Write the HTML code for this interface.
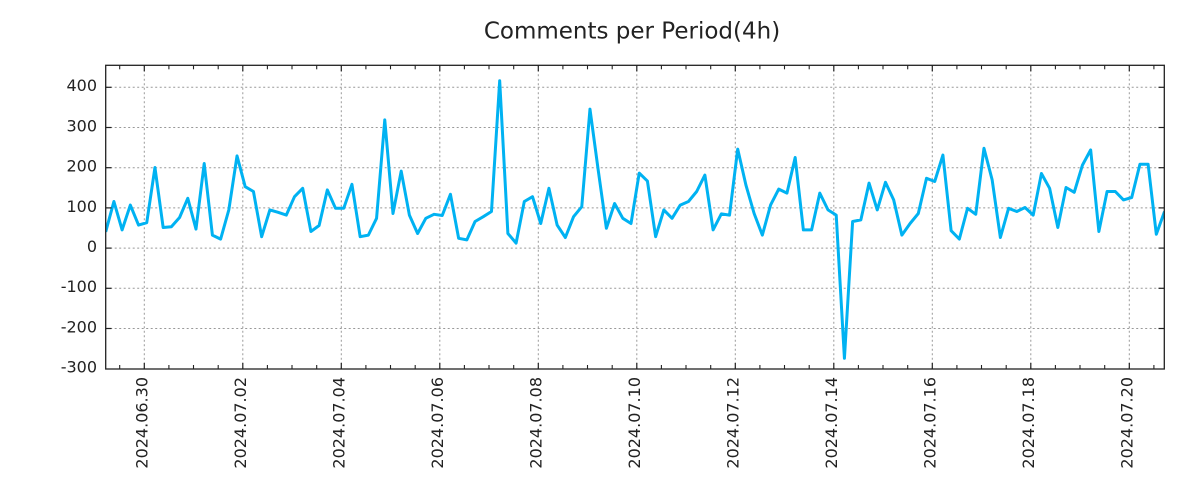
<!DOCTYPE html>
<html>
<head>
<meta charset="utf-8">
<style>
html,body{margin:0;padding:0;background:#fff;}
svg{display:block;}
text{font-family:"DejaVu Sans","Liberation Sans",sans-serif;fill:#222;}
</style>
</head>
<body>
<svg width="1200" height="500" viewBox="0 0 1200 500" xmlns="http://www.w3.org/2000/svg">
<defs>
<clipPath id="pc"><rect x="105.7" y="65.3" width="1058.6" height="303.7"/></clipPath>
</defs>
<rect width="1200" height="500" fill="#fff"/>
<text x="632" y="38.5" font-size="23" text-anchor="middle">Comments per Period(4h)</text>

<!-- grid -->
<g stroke="#999" stroke-width="1" stroke-dasharray="2,2.5" fill="none">
<line x1="105.7" y1="87.3" x2="1164.3" y2="87.3"/>
<line x1="105.7" y1="127.5" x2="1164.3" y2="127.5"/>
<line x1="105.7" y1="167.7" x2="1164.3" y2="167.7"/>
<line x1="105.7" y1="207.9" x2="1164.3" y2="207.9"/>
<line x1="105.7" y1="248.1" x2="1164.3" y2="248.1"/>
<line x1="105.7" y1="288.3" x2="1164.3" y2="288.3"/>
<line x1="105.7" y1="328.5" x2="1164.3" y2="328.5"/>
<line x1="144.3" y1="65.3" x2="144.3" y2="369"/>
<line x1="242.8" y1="65.3" x2="242.8" y2="369"/>
<line x1="341.3" y1="65.3" x2="341.3" y2="369"/>
<line x1="439.8" y1="65.3" x2="439.8" y2="369"/>
<line x1="538.3" y1="65.3" x2="538.3" y2="369"/>
<line x1="636.8" y1="65.3" x2="636.8" y2="369"/>
<line x1="735.3" y1="65.3" x2="735.3" y2="369"/>
<line x1="833.8" y1="65.3" x2="833.8" y2="369"/>
<line x1="932.3" y1="65.3" x2="932.3" y2="369"/>
<line x1="1030.8" y1="65.3" x2="1030.8" y2="369"/>
<line x1="1129.3" y1="65.3" x2="1129.3" y2="369"/>
</g>

<!-- data line -->
<g clip-path="url(#pc)">
<polyline fill="none" stroke="#00b2f2" stroke-width="3" stroke-linejoin="round" vector-effect="non-scaling-stroke"
transform="translate(105.7,248.3) scale(8.208,-0.4)"
points="0,41 1,117 2,46 3,108 4,58 5,64 6,202 7,52 8,54 9,77 10,125 11,48 12,212 13,33 14,23 15,96 16,231 17,154 18,142 19,29 20,96 21,90 22,83 23,129 24,150 25,42 26,57 27,146 28,100 29,100 30,160 31,29 32,33 33,75 34,321 35,87 36,193 37,83 38,37 39,75 40,85 41,82 42,135 43,25 44,21 45,67 46,79 47,92 48,419 49,37 50,13 51,117 52,129 53,62 54,150 55,58 56,27 57,79 58,104 59,348 60,196 61,50 62,112 63,75 64,62 65,188 66,168 67,29 68,96 69,75 70,108 71,117 72,142 73,183 74,46 75,86 76,83 77,248 78,158 79,87 80,33 81,108 82,148 83,138 84,227 85,46 86,46 87,138 88,96 89,83 90,-275 91,67 92,71 93,163 94,96 95,165 96,121 97,33 98,62 99,87 100,175 101,167 102,233 103,44 104,23 105,100 106,85 107,250 108,171 109,27 110,100 111,92 112,102 113,83 114,187 115,150 116,52 117,152 118,140 119,208 120,246 121,42 122,142 123,142 124,121 125,127 126,210 127,210 128,35 129,92"/>
</g>

<!-- frame -->
<rect x="105.7" y="65.3" width="1058.6" height="303.7" fill="none" stroke="#222" stroke-width="1.3"/>

<!-- y ticks -->
<g stroke="#222" stroke-width="1.2">
<line x1="105.7" y1="87.3" x2="111.5" y2="87.3"/><line x1="1164.3" y1="87.3" x2="1158.5" y2="87.3"/>
<line x1="105.7" y1="127.5" x2="111.5" y2="127.5"/><line x1="1164.3" y1="127.5" x2="1158.5" y2="127.5"/>
<line x1="105.7" y1="167.7" x2="111.5" y2="167.7"/><line x1="1164.3" y1="167.7" x2="1158.5" y2="167.7"/>
<line x1="105.7" y1="207.9" x2="111.5" y2="207.9"/><line x1="1164.3" y1="207.9" x2="1158.5" y2="207.9"/>
<line x1="105.7" y1="248.1" x2="111.5" y2="248.1"/><line x1="1164.3" y1="248.1" x2="1158.5" y2="248.1"/>
<line x1="105.7" y1="288.3" x2="111.5" y2="288.3"/><line x1="1164.3" y1="288.3" x2="1158.5" y2="288.3"/>
<line x1="105.7" y1="328.5" x2="111.5" y2="328.5"/><line x1="1164.3" y1="328.5" x2="1158.5" y2="328.5"/>
</g>

<!-- x major ticks -->
<g stroke="#222" stroke-width="1.2">
<line x1="144.3" y1="369" x2="144.3" y2="363"/><line x1="144.3" y1="65.3" x2="144.3" y2="71.3"/>
<line x1="242.8" y1="369" x2="242.8" y2="363"/><line x1="242.8" y1="65.3" x2="242.8" y2="71.3"/>
<line x1="341.3" y1="369" x2="341.3" y2="363"/><line x1="341.3" y1="65.3" x2="341.3" y2="71.3"/>
<line x1="439.8" y1="369" x2="439.8" y2="363"/><line x1="439.8" y1="65.3" x2="439.8" y2="71.3"/>
<line x1="538.3" y1="369" x2="538.3" y2="363"/><line x1="538.3" y1="65.3" x2="538.3" y2="71.3"/>
<line x1="636.8" y1="369" x2="636.8" y2="363"/><line x1="636.8" y1="65.3" x2="636.8" y2="71.3"/>
<line x1="735.3" y1="369" x2="735.3" y2="363"/><line x1="735.3" y1="65.3" x2="735.3" y2="71.3"/>
<line x1="833.8" y1="369" x2="833.8" y2="363"/><line x1="833.8" y1="65.3" x2="833.8" y2="71.3"/>
<line x1="932.3" y1="369" x2="932.3" y2="363"/><line x1="932.3" y1="65.3" x2="932.3" y2="71.3"/>
<line x1="1030.8" y1="369" x2="1030.8" y2="363"/><line x1="1030.8" y1="65.3" x2="1030.8" y2="71.3"/>
<line x1="1129.3" y1="369" x2="1129.3" y2="363"/><line x1="1129.3" y1="65.3" x2="1129.3" y2="71.3"/>
</g>

<!-- x minor ticks (half day) -->
<g stroke="#222" stroke-width="1.1">
<line x1="119.7" y1="369" x2="119.7" y2="365"/><line x1="119.7" y1="65.3" x2="119.7" y2="69.3"/>
<line x1="168.9" y1="369" x2="168.9" y2="365"/><line x1="168.9" y1="65.3" x2="168.9" y2="69.3"/>
<line x1="193.5" y1="369" x2="193.5" y2="365"/><line x1="193.5" y1="65.3" x2="193.5" y2="69.3"/>
<line x1="218.2" y1="369" x2="218.2" y2="365"/><line x1="218.2" y1="65.3" x2="218.2" y2="69.3"/>
<line x1="267.4" y1="369" x2="267.4" y2="365"/><line x1="267.4" y1="65.3" x2="267.4" y2="69.3"/>
<line x1="292.0" y1="369" x2="292.0" y2="365"/><line x1="292.0" y1="65.3" x2="292.0" y2="69.3"/>
<line x1="316.7" y1="369" x2="316.7" y2="365"/><line x1="316.7" y1="65.3" x2="316.7" y2="69.3"/>
<line x1="365.9" y1="369" x2="365.9" y2="365"/><line x1="365.9" y1="65.3" x2="365.9" y2="69.3"/>
<line x1="390.5" y1="369" x2="390.5" y2="365"/><line x1="390.5" y1="65.3" x2="390.5" y2="69.3"/>
<line x1="415.2" y1="369" x2="415.2" y2="365"/><line x1="415.2" y1="65.3" x2="415.2" y2="69.3"/>
<line x1="464.4" y1="369" x2="464.4" y2="365"/><line x1="464.4" y1="65.3" x2="464.4" y2="69.3"/>
<line x1="489.0" y1="369" x2="489.0" y2="365"/><line x1="489.0" y1="65.3" x2="489.0" y2="69.3"/>
<line x1="513.7" y1="369" x2="513.7" y2="365"/><line x1="513.7" y1="65.3" x2="513.7" y2="69.3"/>
<line x1="562.9" y1="369" x2="562.9" y2="365"/><line x1="562.9" y1="65.3" x2="562.9" y2="69.3"/>
<line x1="587.5" y1="369" x2="587.5" y2="365"/><line x1="587.5" y1="65.3" x2="587.5" y2="69.3"/>
<line x1="612.2" y1="369" x2="612.2" y2="365"/><line x1="612.2" y1="65.3" x2="612.2" y2="69.3"/>
<line x1="661.4" y1="369" x2="661.4" y2="365"/><line x1="661.4" y1="65.3" x2="661.4" y2="69.3"/>
<line x1="686.0" y1="369" x2="686.0" y2="365"/><line x1="686.0" y1="65.3" x2="686.0" y2="69.3"/>
<line x1="710.7" y1="369" x2="710.7" y2="365"/><line x1="710.7" y1="65.3" x2="710.7" y2="69.3"/>
<line x1="759.9" y1="369" x2="759.9" y2="365"/><line x1="759.9" y1="65.3" x2="759.9" y2="69.3"/>
<line x1="784.5" y1="369" x2="784.5" y2="365"/><line x1="784.5" y1="65.3" x2="784.5" y2="69.3"/>
<line x1="809.2" y1="369" x2="809.2" y2="365"/><line x1="809.2" y1="65.3" x2="809.2" y2="69.3"/>
<line x1="858.4" y1="369" x2="858.4" y2="365"/><line x1="858.4" y1="65.3" x2="858.4" y2="69.3"/>
<line x1="883.0" y1="369" x2="883.0" y2="365"/><line x1="883.0" y1="65.3" x2="883.0" y2="69.3"/>
<line x1="907.7" y1="369" x2="907.7" y2="365"/><line x1="907.7" y1="65.3" x2="907.7" y2="69.3"/>
<line x1="956.9" y1="369" x2="956.9" y2="365"/><line x1="956.9" y1="65.3" x2="956.9" y2="69.3"/>
<line x1="981.5" y1="369" x2="981.5" y2="365"/><line x1="981.5" y1="65.3" x2="981.5" y2="69.3"/>
<line x1="1006.2" y1="369" x2="1006.2" y2="365"/><line x1="1006.2" y1="65.3" x2="1006.2" y2="69.3"/>
<line x1="1055.4" y1="369" x2="1055.4" y2="365"/><line x1="1055.4" y1="65.3" x2="1055.4" y2="69.3"/>
<line x1="1080.0" y1="369" x2="1080.0" y2="365"/><line x1="1080.0" y1="65.3" x2="1080.0" y2="69.3"/>
<line x1="1104.7" y1="369" x2="1104.7" y2="365"/><line x1="1104.7" y1="65.3" x2="1104.7" y2="69.3"/>
<line x1="1153.9" y1="369" x2="1153.9" y2="365"/><line x1="1153.9" y1="65.3" x2="1153.9" y2="69.3"/>
</g>

<!-- y labels -->
<g font-size="16" text-anchor="end">
<text x="97" y="91.2">400</text>
<text x="97" y="131.4">300</text>
<text x="97" y="171.6">200</text>
<text x="97" y="211.8">100</text>
<text x="97" y="252.0">0</text>
<text x="97" y="292.2">-100</text>
<text x="97" y="332.4">-200</text>
<text x="97" y="372.6">-300</text>
</g>

<!-- x labels -->
<g font-size="16" text-anchor="end">
<text transform="translate(147.6,377) rotate(-90)">2024.06.30</text>
<text transform="translate(246.1,377) rotate(-90)">2024.07.02</text>
<text transform="translate(344.6,377) rotate(-90)">2024.07.04</text>
<text transform="translate(443.1,377) rotate(-90)">2024.07.06</text>
<text transform="translate(541.6,377) rotate(-90)">2024.07.08</text>
<text transform="translate(640.1,377) rotate(-90)">2024.07.10</text>
<text transform="translate(738.6,377) rotate(-90)">2024.07.12</text>
<text transform="translate(837.1,377) rotate(-90)">2024.07.14</text>
<text transform="translate(935.6,377) rotate(-90)">2024.07.16</text>
<text transform="translate(1034.1,377) rotate(-90)">2024.07.18</text>
<text transform="translate(1132.6,377) rotate(-90)">2024.07.20</text>
</g>
</svg>
</body>
</html>
